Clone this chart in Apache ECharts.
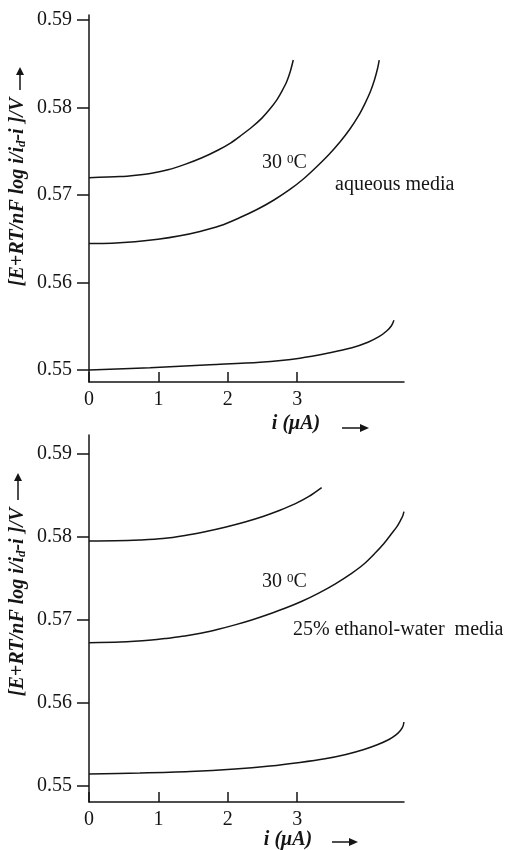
<!DOCTYPE html>
<html>
<head>
<meta charset="utf-8">
<script src="https://cdn.jsdelivr.net/npm/echarts@6/dist/echarts.min.js"></script>
<style>
  html, body { margin: 0; padding: 0; background: #fff; }
  #chart { width: 510px; height: 850px; }
</style>
</head>
<body>
<div id="chart"></div>
<script>
// tick labels
const xTicks = [0, 1, 2, 3];
const yTicks = [0.55, 0.56, 0.57, 0.58, 0.59];

// aqueous media (top panel)
const aqUpperX = [0, 0.447, 0.677, 0.903, 1.138, 1.383, 1.628, 1.863, 2.039, 2.2, 2.349, 2.488, 2.601, 2.705, 2.781, 2.849, 2.901, 2.944];
const aqUpperY = [0.57196, 0.57209, 0.57225, 0.57248, 0.57287, 0.57349, 0.57424, 0.57513, 0.57592, 0.57684, 0.57775, 0.57874, 0.57975, 0.58083, 0.58186, 0.58292, 0.58409, 0.5854];
const aqMiddleX = [0, 0.331, 0.663, 0.994, 1.311, 1.599, 1.888, 2.161, 2.421, 2.666, 2.896, 3.098, 3.285, 3.458, 3.617, 3.761, 3.883, 3.977, 4.056, 4.114, 4.157, 4.183];
const aqMiddleY = [0.56445, 0.56449, 0.56465, 0.56493, 0.56533, 0.56583, 0.56647, 0.56736, 0.56833, 0.56942, 0.57062, 0.57187, 0.57324, 0.57461, 0.57604, 0.57752, 0.57901, 0.58043, 0.5818, 0.58312, 0.58437, 0.5854];
const aqLowerX = [0, 0.879, 1.744, 2.464, 3.04, 3.473, 3.79, 4.02, 4.179, 4.294, 4.359, 4.395];
const aqLowerY = [0.55002, 0.55027, 0.55061, 0.5509, 0.55136, 0.55198, 0.55255, 0.55318, 0.55381, 0.55449, 0.55506, 0.55569];

// 25% ethanol-water media (bottom panel)
const etUpperX = [0, 0.375, 0.735, 1.066, 1.383, 1.671, 1.96, 2.248, 2.507, 2.752, 2.968, 3.17, 3.353];
const etUpperY = [0.57945, 0.57947, 0.57957, 0.57974, 0.58011, 0.58057, 0.58111, 0.58174, 0.5824, 0.58315, 0.58391, 0.58481, 0.58587];
const etMiddleX = [0, 0.447, 0.903, 1.138, 1.383, 1.628, 1.863, 2.104, 2.344, 2.579, 2.824, 3.069, 3.304, 3.545, 3.785, 3.963, 4.121, 4.251, 4.362, 4.438, 4.491, 4.524, 4.539];
const etMiddleY = [0.56721, 0.56728, 0.56753, 0.56775, 0.56801, 0.56837, 0.56882, 0.56935, 0.56994, 0.5706, 0.57135, 0.5722, 0.57315, 0.57427, 0.57556, 0.57668, 0.57797, 0.57915, 0.58035, 0.58118, 0.58195, 0.58252, 0.58298];
const etLowerX = [0, 0.735, 1.455, 2.104, 2.608, 3.04, 3.401, 3.703, 3.963, 4.164, 4.323, 4.424, 4.488, 4.524, 4.539];
const etLowerY = [0.5514, 0.55152, 0.5517, 0.552, 0.55236, 0.55279, 0.55323, 0.55375, 0.55435, 0.55495, 0.55555, 0.5561, 0.55664, 0.55712, 0.55766];

const INK = '#151515';
const SERIF = '"Liberation Serif", "DejaVu Serif", serif';

const zip = (xs, ys) => xs.map((x, i) => [x, ys[i]]);

function xAxisFor(gridIndex) {
  return {
    type: 'value',
    gridIndex,
    min: 0,
    max: 4.54,
    axisLine: { show: true, onZero: false, lineStyle: { color: INK, width: 1.5 } },
    axisTick: { show: true, inside: true, length: 10, customValues: xTicks, lineStyle: { color: INK, width: 1.5 } },
    axisLabel: { customValues: xTicks, margin: 8, color: INK, fontFamily: SERIF, fontSize: 20 },
    splitLine: { show: false }
  };
}

function yAxisFor(gridIndex, min, max) {
  return {
    type: 'value',
    gridIndex,
    min,
    max,
    axisLine: { show: true, onZero: false, lineStyle: { color: INK, width: 1.5 } },
    axisTick: { show: true, inside: false, length: 12, customValues: yTicks, lineStyle: { color: INK, width: 1.5 } },
    axisLabel: {
      customValues: yTicks, margin: 17, color: INK, fontFamily: SERIF, fontSize: 20,
      formatter: v => v.toFixed(2)
    },
    splitLine: { show: false }
  };
}

function curve(idx, xs, ys) {
  return {
    type: 'line',
    xAxisIndex: idx,
    yAxisIndex: idx,
    data: zip(xs, ys),
    showSymbol: false,
    smooth: 0.3,
    clip: false,
    silent: true,
    lineStyle: { color: INK, width: 1.5 }
  };
}

const textStyle = (text, size, weight, style) => ({
  text, fill: INK, font: `${style} ${weight} ${size}px ${SERIF}`
});

function yTitle(cx, cy) {
  return {
    type: 'text',
    x: cx, y: cy,
    rotation: Math.PI / 2,
    style: {
      text: '{t|[E+RT/nF log i/i}{s|d}{t|-i ]/V}',
      align: 'center', verticalAlign: 'middle', fill: INK,
      rich: {
        t: { fontFamily: SERIF, fontSize: 20, fontWeight: 'bold', fontStyle: 'italic', color: INK },
        s: { fontFamily: SERIF, fontSize: 13, fontWeight: 'bold', fontStyle: 'italic', color: INK, verticalAlign: 'bottom' }
      }
    }
  };
}

function arrowUp(x, yTop, yBottom) {
  return {
    type: 'group',
    children: [
      { type: 'line', shape: { x1: x, y1: yBottom, x2: x, y2: yTop + 6 }, style: { stroke: INK, lineWidth: 1.5 } },
      { type: 'polygon', shape: { points: [[x, yTop], [x - 4, yTop + 8], [x + 4, yTop + 8]] }, style: { fill: INK } }
    ]
  };
}

function arrowRight(xLeft, xRight, y) {
  return {
    type: 'group',
    children: [
      { type: 'line', shape: { x1: xLeft, y1: y, x2: xRight - 6, y2: y }, style: { stroke: INK, lineWidth: 1.5 } },
      { type: 'polygon', shape: { points: [[xRight, y], [xRight - 9, y - 4], [xRight - 9, y + 4]] }, style: { fill: INK } }
    ]
  };
}

function degreeLabel(x, y) {
  return {
    type: 'text', x, y,
    style: {
      text: '{n|30 }{p|0}{n|C}',
      align: 'left', verticalAlign: 'middle', fill: INK,
      rich: {
        n: { fontFamily: SERIF, fontSize: 20, color: INK },
        p: { fontFamily: SERIF, fontSize: 13, color: INK, verticalAlign: 'top' }
      }
    }
  };
}

function plainLabel(x, y, text) {
  return {
    type: 'text', x, y,
    style: Object.assign(textStyle(text, 20, 'normal', 'normal'), { align: 'left', verticalAlign: 'middle' })
  };
}

function xTitle(cx, cy) {
  return {
    type: 'text', x: cx, y: cy,
    style: Object.assign(textStyle('i (\u03bcA)', 20, 'bold', 'italic'), { align: 'center', verticalAlign: 'middle' })
  };
}

const chart = echarts.init(document.getElementById('chart'), null, { renderer: 'canvas' });

chart.setOption({
  animation: false,
  backgroundColor: '#fff',
  grid: [
    { left: 89, top: 15, width: 315, height: 367 },
    { left: 89, top: 435, width: 315, height: 367 }
  ],
  xAxis: [xAxisFor(0), xAxisFor(1)],
  yAxis: [yAxisFor(0, 0.54864, 0.59054), yAxisFor(1, 0.54803, 0.59221)],
  series: [
    curve(0, aqUpperX, aqUpperY),
    curve(0, aqMiddleX, aqMiddleY),
    curve(0, aqLowerX, aqLowerY),
    curve(1, etUpperX, etUpperY),
    curve(1, etMiddleX, etMiddleY),
    curve(1, etLowerX, etLowerY)
  ],
  graphic: [
    yTitle(18, 192),
    arrowUp(20, 67, 90),
    yTitle(18, 602),
    arrowUp(18, 473, 500),
    xTitle(296, 424),
    arrowRight(342, 369, 428),
    xTitle(288, 840),
    arrowRight(332, 358, 842),
    degreeLabel(262, 163),
    plainLabel(335, 185, 'aqueous media'),
    degreeLabel(262, 582),
    plainLabel(293, 630, '25% ethanol-water  media')
  ]
});
</script>
</body>
</html>
